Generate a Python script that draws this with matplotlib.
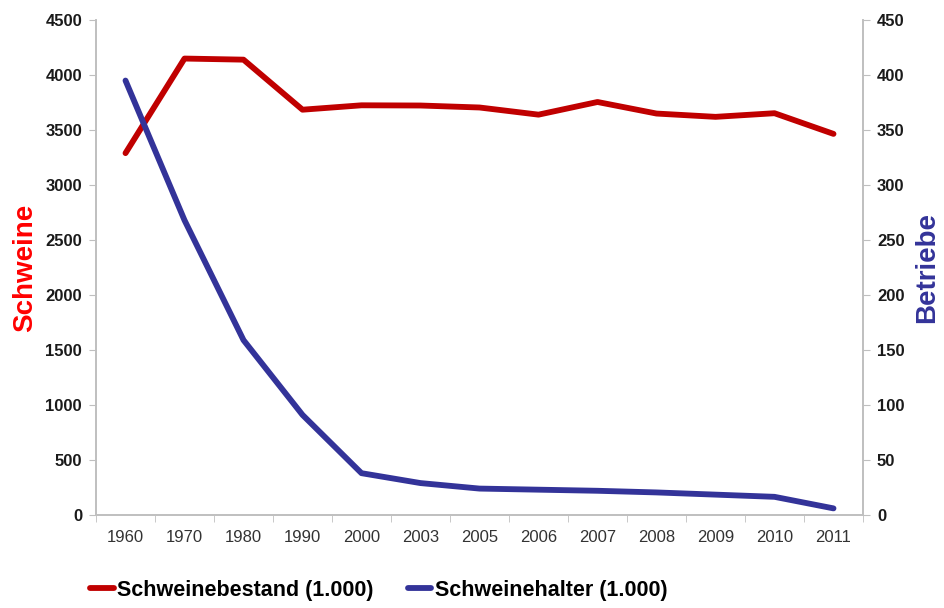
import matplotlib
matplotlib.use('Agg')
import matplotlib.pyplot as plt

plt.rcParams['font.family'] = ['Liberation Sans', 'DejaVu Sans']

years = ['1960', '1970', '1980', '1990', '2000', '2003', '2005',
         '2006', '2007', '2008', '2009', '2010', '2011']
bestand = [3290, 4150, 4140, 3685, 3725, 3723, 3705,
           3640, 3755, 3650, 3620, 3653, 3465]
halter = [395, 268, 159, 91, 38, 29, 24, 23, 22, 20.5, 18.5, 16.5, 6]

red = '#C00000'
blue = '#333399'
grey = '#BFBFBF'

fig = plt.figure(figsize=(9.44, 6.08), dpi=100)
ax = fig.add_axes([0.1017, 0.153, 0.8125, 0.814])
ax2 = ax.twinx()

x = range(len(years))
l1, = ax.plot(x, bestand, color=red, linewidth=4.2, solid_capstyle='round',
              label='Schweinebestand (1.000)')
l2, = ax2.plot(x, halter, color=blue, linewidth=4.2, solid_capstyle='round',
               label='Schweinehalter (1.000)')

ax.set_xlim(-0.5, len(years) - 0.5)
ax.set_ylim(0, 4500)
ax2.set_ylim(0, 450)
ax.set_yticks(range(0, 4501, 500))
ax2.set_yticks(range(0, 451, 50))

ax.set_xticks(list(x))
ax.set_xticklabels(years, fontsize=12, color='#333333')
ax.set_xticks([i + 0.5 for i in range(-1, len(years))], minor=True)
ax.tick_params(axis='x', which='major', length=0, pad=11)
ax.tick_params(axis='x', which='minor', length=5, color=grey)

for a in (ax, ax2):
    a.spines['top'].set_visible(False)
    for s in ('left', 'right', 'bottom'):
        a.spines[s].set_color(grey)
        a.spines[s].set_linewidth(1.2)
    a.tick_params(axis='y', length=5, color=grey, labelsize=12, pad=5)
    for lab in a.get_yticklabels():
        lab.set_fontweight('bold')
        lab.set_color('#1a1a1a')

ax.set_ylabel('Schweine', color='#FF0000', fontsize=20, fontweight='bold',
              labelpad=5)
ax2.set_ylabel('Betriebe', color=blue, fontsize=20, fontweight='bold',
               labelpad=7)

fig.legend(handles=[l1, l2], loc='center left',
           bbox_to_anchor=(0.0953, 0.0296), ncol=2, frameon=False,
           borderpad=0, borderaxespad=0, handlelength=1.1,
           handletextpad=0.15, columnspacing=1.6,
           prop={'weight': 'bold', 'size': 15.5})

fig.savefig('out.png', dpi=100)
